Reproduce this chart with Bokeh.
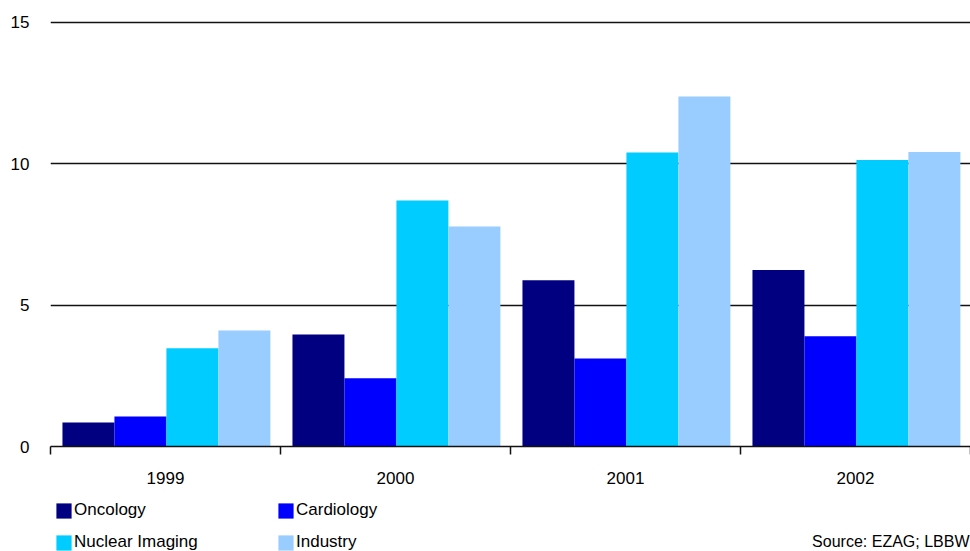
from bokeh.plotting import figure
from bokeh.models import (Range1d, FixedTicker, Legend, LegendItem, Label,
                          ColumnDataSource)
from bokeh.layouts import column
from bokeh.transform import dodge
from bokeh.embed import file_html
from bokeh.resources import INLINE

years = ["1999", "2000", "2001", "2002"]
series = ["Oncology", "Cardiology", "Nuclear Imaging", "Industry"]
oncology = [0.85, 3.96, 5.88, 6.24]
cardiology = [1.06, 2.41, 3.11, 3.90]
nuclear_imaging = [3.47, 8.70, 10.40, 10.13]
industry = [4.10, 7.78, 12.38, 10.41]
colors = ["#000080", "#0000FF", "#00CCFF", "#99CCFF"]
y_ticks = [0, 5, 10, 15]
source_text = "Source: EZAG; LBBW"

FONT = "Liberation Sans"

xpos = [i + 0.5 for i in range(len(years))]
src = ColumnDataSource(dict(x=xpos, Oncology=oncology, Cardiology=cardiology,
                            Nuclear=nuclear_imaging, Industry=industry))
cols = ["Oncology", "Cardiology", "Nuclear", "Industry"]

p = figure(width=970, height=490, output_backend="svg", toolbar_location=None,
           x_range=Range1d(0, 4), y_range=Range1d(0, 15.1),
           min_border_left=50, min_border_right=0, min_border_top=19,
           min_border_bottom=44)
p.outline_line_color = None

bw = 0.226
offsets = [-1.5 * bw, -0.5 * bw, 0.5 * bw, 1.5 * bw]
for col, off, c in zip(cols, offsets, colors):
    p.vbar(x=dodge("x", off + 0.004, range=p.x_range), top=col, width=bw,
           source=src, fill_color=c, line_color=None)

# y axis
p.yaxis.ticker = FixedTicker(ticks=y_ticks)
p.yaxis.axis_line_color = None
p.yaxis.major_tick_line_color = None
p.yaxis.minor_tick_line_color = None
p.yaxis.major_tick_out = 0
p.yaxis.major_tick_in = 0
p.yaxis.major_label_standoff = 21
p.yaxis.major_label_text_font = FONT
p.yaxis.major_label_text_font_size = "17px"
p.yaxis.major_label_text_color = "#000000"

p.ygrid.ticker = FixedTicker(ticks=[t for t in y_ticks if t > 0])
p.ygrid.grid_line_color = "#111111"
p.ygrid.grid_line_width = 1.5
p.xgrid.grid_line_color = None

# x axis
p.xaxis.ticker = FixedTicker(ticks=xpos, minor_ticks=list(range(len(years) + 1)))
p.xaxis.major_label_overrides = {x: y for x, y in zip(xpos, years)}
p.xaxis.major_tick_line_color = None
p.xaxis.major_tick_out = 0
p.xaxis.major_tick_in = 0
p.xaxis.minor_tick_line_color = "#111111"
p.xaxis.minor_tick_line_width = 1.5
p.xaxis.minor_tick_out = 8
p.xaxis.minor_tick_in = 0
p.xaxis.axis_line_color = "#111111"
p.xaxis.axis_line_width = 1.5
p.xaxis.major_label_standoff = 17
p.xaxis.major_label_text_font = FONT
p.xaxis.major_label_text_font_size = "17px"
p.xaxis.major_label_text_color = "#000000"

# legend + source strip below the chart (its frame is aligned with the chart's)
q = figure(width=970, height=61, output_backend="svg", toolbar_location=None,
           x_range=Range1d(0, 1), y_range=Range1d(0, 1),
           min_border=0, min_border_left=50, x_axis_location=None,
           y_axis_location=None)
q.outline_line_color = None
q.xgrid.grid_line_color = None
q.ygrid.grid_line_color = None
# zero-size helper glyphs that only provide legend swatches
helper = ColumnDataSource(dict(x=[0], y=[0]))
items = []
for s, c in zip(series, colors):
    r = q.rect(x="x", y="y", width=0, height=0, source=helper,
               fill_color=c, line_color=None)
    items.append(LegendItem(label=s, renderers=[r]))
legend = Legend(items=items, location=(4, -1), orientation="horizontal", ncols=2,
                glyph_width=19, glyph_height=19, label_standoff=1,
                label_width=190, label_height=16, spacing=12, padding=0,
                margin=0, border_line_color=None, background_fill_alpha=0,
                label_text_font=FONT, label_text_font_size="17px",
                label_text_color="#000000")
q.add_layout(legend)
q.add_layout(Label(x=919, y=10, x_units="screen", y_units="screen",
                   text=source_text, text_align="right", text_baseline="middle",
                   text_font=FONT, text_font_size="16px", text_color="#000000"))

layout = column(p, q, spacing=0)
open("out.html", "w").write(file_html(layout, INLINE))
